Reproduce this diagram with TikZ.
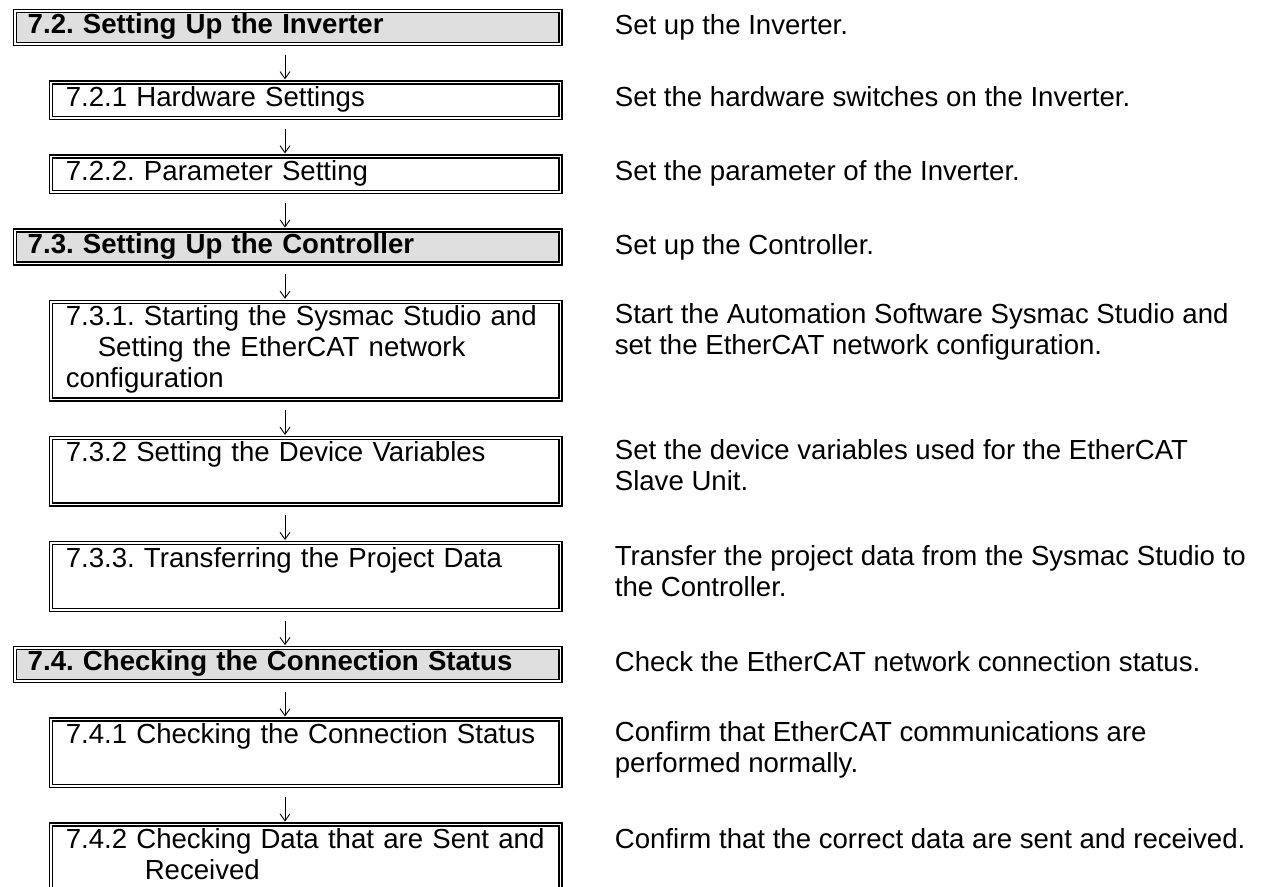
\documentclass[tikz,border=0pt]{standalone}
\usepackage{fontspec}
\setmainfont{Liberation Sans}
\usetikzlibrary{positioning,arrows.meta}

\definecolor{sectgray}{RGB}{223,223,223}

\tikzset{
  txt/.style={font=\frenchspacing\fontsize{13.8pt}{15.5pt}\selectfont,
    execute at begin node=\strut, execute at end node=\strut},
  box/.style={txt, draw, line width=0.75pt, double=white, double distance=0.75pt,
    align=left, inner ysep=1.2pt, inner xsep=7.375pt, text width=240pt},
  sect/.style={box, fill=sectgray, inner ysep=0.5pt, inner xsep=6.375pt,
    text width=260pt, font=\frenchspacing\bfseries\fontsize{13.8pt}{15.5pt}\selectfont},
  desc/.style={txt, align=left, inner xsep=0pt, inner ysep=1.2pt, anchor=north west},
  flow/.style={-{Straight Barb[length=3.5pt,width=5pt]}, line width=0.45pt,
    shorten <=5pt, shorten >=1.1pt}
}

\begin{document}
\begin{tikzpicture}[node distance=18.4pt]
  \useasboundingbox (0,0) rectangle (632.5pt,-443.5pt);
  \coordinate (axis) at (142.5pt,0);

  % left column: steps
  \node[sect, anchor=north west] (g72) at (7.125pt,-5.125pt) {7.2. Setting Up the Inverter};
  \node[box, below=of g72.south east, anchor=north east] (b721) {7.2.1 Hardware Settings};
  \node[box, below=of b721.south east, anchor=north east] (b722) {7.2.2. Parameter Setting};
  \node[sect, below=of b722.south east, anchor=north east] (g73) {7.3. Setting Up the Controller};
  \node[box, below=of g73.south east, anchor=north east] (b731) {7.3.1. Starting the Sysmac Studio and\\\hspace*{16pt}Setting the EtherCAT network\\configuration};
  \node[box, below=of b731.south east, anchor=north east] (b732) {7.3.2 Setting the Device Variables\\};
  \node[box, below=of b732.south east, anchor=north east] (b733) {7.3.3. Transferring the Project Data\\};
  \node[sect, below=of b733.south east, anchor=north east] (g74) {7.4. Checking the Connection Status};
  \node[box, below=of g74.south east, anchor=north east] (b741) {7.4.1 Checking the Connection Status\\};
  \node[box, below=of b741.south east, anchor=north east] (b742) {7.4.2 Checking Data that are Sent and\\\hspace*{39.5pt}Received\\};

  % right column: what is done
  \node[desc, right=26.6pt of g72.north east, anchor=north west] (d72) {Set up the Inverter.};
  \node[desc, right=26.6pt of b721.north east, anchor=north west] (d721) {Set the hardware switches on the Inverter.};
  \node[desc, right=26.6pt of b722.north east, anchor=north west] (d722) {Set the parameter of the Inverter.};
  \node[desc, right=26.6pt of g73.north east, anchor=north west] (d73) {Set up the Controller.};
  \node[desc, right=26.6pt of b731.north east, anchor=north west] (d731) {Start the Automation Software Sysmac Studio and\\set the EtherCAT network configuration.};
  \node[desc, right=26.6pt of b732.north east, anchor=north west] (d732) {Set the device variables used for the EtherCAT\\Slave Unit.};
  \node[desc, right=26.6pt of b733.north east, anchor=north west] (d733) {Transfer the project data from the Sysmac Studio to\\the Controller.};
  \node[desc, right=26.6pt of g74.north east, anchor=north west] (d74) {Check the EtherCAT network connection status.};
  \node[desc, right=26.6pt of b741.north east, anchor=north west] (d741) {Confirm that EtherCAT communications are\\performed normally.};
  \node[desc, right=26.6pt of b742.north east, anchor=north west] (d742) {Confirm that the correct data are sent and received.};

  % arrows between steps
  \foreach \a/\b in {g72/b721, b721/b722, b722/g73, g73/b731, b731/b732,
                     b732/b733, b733/g74, g74/b741, b741/b742}
    \draw[flow] (\a.south -| axis) -- (\b.north -| axis);
\end{tikzpicture}
\end{document}
